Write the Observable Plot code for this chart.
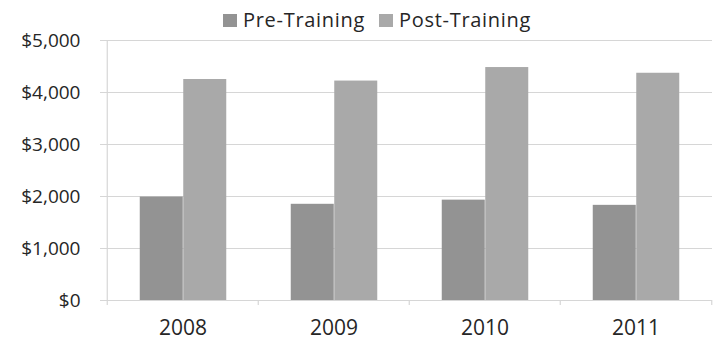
<!DOCTYPE html>
<html>
<head>
<meta charset="utf-8">
<script src="https://cdn.jsdelivr.net/npm/d3@7"></script>
<script src="https://cdn.jsdelivr.net/npm/@observablehq/plot@0.6"></script>
<style>
  html, body { margin: 0; padding: 0; background: #fff; }
  #wrap { position: relative; width: 718px; height: 343px; overflow: hidden; font-family: "Open Sans", Lato, sans-serif; }
  #legend { position: absolute; top: 6px; left: 223px; display: flex; align-items: center; font-size: 20px; letter-spacing: 0.7px; color: #262626; line-height: 28px; }
  #legend .sw { display: inline-block; width: 14px; height: 13px; margin-right: 6px; }
  #legend .item { display: flex; align-items: center; margin-right: 14px; }
  svg { display: block; }
</style>
</head>
<body>
<div id="wrap">
  <div id="legend"></div>
  <div id="chart"></div>
</div>
<script>
// Average spend per trainee, before and after the training programme
const years = ["2008", "2009", "2010", "2011"];
const series = ["Pre-Training", "Post-Training"];
const preTraining = [1990, 1850, 1930, 1830];
const postTraining = [4250, 4220, 4480, 4370];
const yTicks = [0, 1000, 2000, 3000, 4000, 5000];
const colors = ["#939393", "#a9a9a9"];

const rows = years.flatMap((year, i) => [
  {year, series: series[0], value: preTraining[i]},
  {year, series: series[1], value: postTraining[i]}
]);

// Legend
const legend = document.getElementById("legend");
series.forEach((s, i) => {
  const item = document.createElement("span");
  item.className = "item";
  const sw = document.createElement("span");
  sw.className = "sw";
  sw.style.background = colors[i];
  item.appendChild(sw);
  item.appendChild(document.createTextNode(s));
  legend.appendChild(item);
});

const bandHalf = 75.75; // half of a year band, in pixels
const barW = 43.5;
const axisColor = "#d6d6d6";
const textColor = "#262626";

const chart = Plot.plot({
  width: 718,
  height: 343,
  marginTop: 40,
  marginBottom: 43,
  marginLeft: 106,
  marginRight: 6,
  style: {fontFamily: "'Open Sans', Lato, sans-serif", fontSize: "19px", color: textColor, background: "#fff"},
  x: {domain: years, padding: 0, label: null},
  y: {domain: [0, 5000], label: null},
  color: {domain: series, range: colors},
  marks: [
    Plot.ruleY(yTicks, {stroke: axisColor, strokeWidth: 1.2, insetLeft: -6}),
    Plot.ruleX([years[0]], {dx: -bandHalf, y1: 0, y2: 5000, stroke: axisColor, strokeWidth: 1.2}),
    Plot.tickX(years, {dx: -bandHalf, insetTop: 260, insetBottom: -5, stroke: axisColor, strokeWidth: 1.2}),
    Plot.tickX([years[years.length - 1]], {dx: bandHalf, insetTop: 260, insetBottom: -5, stroke: axisColor, strokeWidth: 1.2}),
    Plot.barY(rows.filter(d => d.series === series[0]), {
      x: "year", y: "value", fill: "series",
      insetLeft: bandHalf - barW, insetRight: bandHalf, dx: 0.5
    }),
    Plot.barY(rows.filter(d => d.series === series[1]), {
      x: "year", y: "value", fill: "series",
      insetLeft: bandHalf, insetRight: bandHalf - barW, dx: 0.5
    }),
    Plot.axisY(yTicks, {tickSize: 0, tickPadding: 26, tickFormat: d => "$" + d3.format(",")(d), fontSize: 19, fill: textColor}),
    Plot.axisX({tickSize: 0, tickPadding: 20, fontSize: 21, fill: textColor})
  ]
});
document.getElementById("chart").appendChild(chart);
</script>
</body>
</html>
